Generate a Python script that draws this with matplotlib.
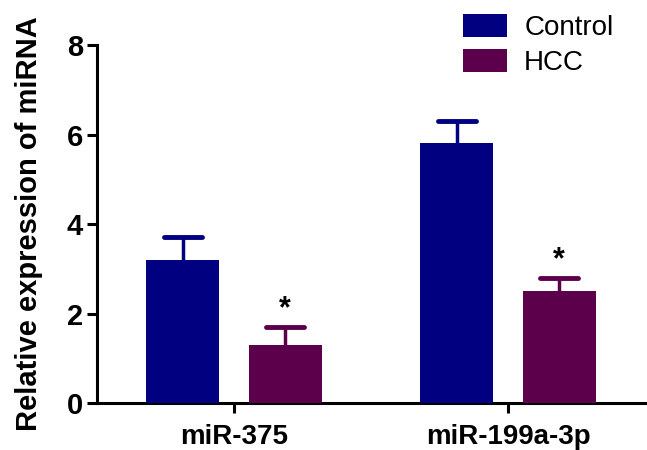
import matplotlib
matplotlib.use('Agg')
import matplotlib.pyplot as plt
import numpy as np

plt.rcParams['font.family'] = ['Liberation Sans', 'DejaVu Sans']

groups = ['miR-375', 'miR-199a-3p']
series = ['Control', 'HCC']
control = [3.2, 5.8]
control_err = [0.5, 0.5]
hcc = [1.3, 2.5]
hcc_err = [0.4, 0.3]
colors = ['#000080', '#5c004c']

fig = plt.figure(figsize=(6.47, 4.5), dpi=100)
ax = fig.add_axes([0.150, 0.1044, 0.847, 0.7956])

x = np.arange(len(groups))
w = 0.266
off = 0.187
cw = 0.07

b1 = ax.bar(x - off, control, w, color=colors[0], label=series[0], zorder=3)
b2 = ax.bar(x + off, hcc, w, color=colors[1], label=series[1], zorder=3)
for xs, vals, errs, c in [(x - off, control, control_err, colors[0]), (x + off, hcc, hcc_err, colors[1])]:
    tops = np.array(vals) + np.array(errs)
    ax.vlines(xs, vals, tops, colors=c, linewidth=2.5, zorder=2)
    ax.hlines(tops, xs - cw, xs + cw, colors=c, linewidth=3.5, capstyle='round', zorder=2)

# significance marks
for xi, v, e in zip(x + off, hcc, hcc_err):
    ax.text(xi, v + e + 0.05, '*', ha='center', va='bottom', fontsize=22, fontweight='bold')

ax.set_xlim(-0.5, 1.5)
ax.set_ylim(0, 8)
ax.set_yticks([0, 2, 4, 6, 8])
ax.set_xticks(x)
ax.set_xticklabels(groups, fontsize=20, fontweight='bold')
ax.tick_params(axis='y', labelsize=21, width=2.2, length=7, pad=3)
ax.tick_params(axis='x', width=2.2, length=7, pad=8)
for t in ax.get_yticklabels():
    t.set_fontweight('bold')
ax.spines['top'].set_visible(False)
ax.spines['right'].set_visible(False)
ax.spines['left'].set_linewidth(2.2)
ax.spines['bottom'].set_linewidth(2.2)
ax.set_ylabel('Relative expression of miRNA', fontsize=21, fontweight='bold', labelpad=17)

fig.legend(handles=[b1, b2], loc='upper left', bbox_to_anchor=(0.677, 1.025),
           frameon=False, fontsize=20, handlelength=1.6, handleheight=0.9,
           handletextpad=0.6, labelspacing=0.3)

fig.savefig('out.png', dpi=100)
